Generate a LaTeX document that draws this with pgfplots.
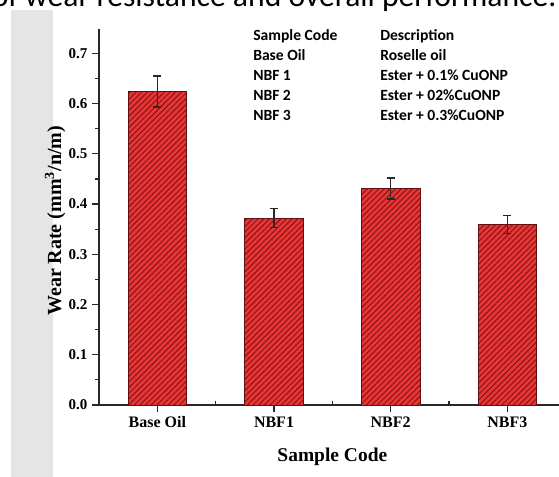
\documentclass[border=0pt]{standalone}
\usepackage{pgfplots}
\pgfplotsset{compat=1.18}
\usepackage{pgfplotstable}
\usepackage{fontspec}
\setmainfont{Liberation Serif}
\newfontfamily\calibri{Carlito}
\usetikzlibrary{patterns.meta}

\definecolor{barred}{RGB}{230,54,54}
\definecolor{hatchred}{RGB}{140,18,22}
\definecolor{baredge}{RGB}{100,15,15}
\definecolor{panelgray}{RGB}{229,229,229}
\definecolor{axisgray}{RGB}{40,40,40}

% wear rate (mm^3/N/m) with standard deviation
\pgfplotstableread{
idx rate err
0 0.624 0.031
1 0.372 0.019
2 0.431 0.021
3 0.359 0.018
}\wearrates

\begin{document}
\begin{tikzpicture}[
  tbl/.style={anchor=base west, inner sep=0pt,
    font=\calibri\bfseries\fontsize{11.7pt}{14pt}\selectfont}]
\useasboundingbox (0,0) rectangle (419.25pt,357.75pt);
\clip (0,0) rectangle (419.25pt,357.75pt);
\begin{scope}[x=0.75pt,y=0.75pt]
\fill[white] (0,0) rectangle (559,477);
\fill[panelgray] (11,0) rectangle (53,467);
\node[anchor=base west, inner sep=0pt] at (25,470)
  {\resizebox{398.25pt}{!}{\calibri\llap{of }wear resistance and overall performance.}};
\end{scope}

\begin{axis}[
  at={(74.25pt,54pt)}, anchor=south west,
  width=350pt, height=281.85pt, scale only axis,
  xmin=-0.5, xmax=3.5, ymin=0, ymax=0.748,
  axis lines=left,
  axis line style={-, line width=1.1pt, color=axisgray},
  tick style={line width=0.9pt, color=axisgray},
  tick align=outside,
  major tick length=5.25pt, minor tick length=3pt,
  xtick={0,1,2,3},
  xticklabels={Base Oil, NBF1, NBF2, NBF3},
  extra x ticks={0.5,1.5,2.5},
  extra x tick labels={},
  extra x tick style={tick align=inside, major tick length=3pt},
  ytick={0,0.1,0.2,0.3,0.4,0.5,0.6,0.7},
  minor ytick={0.05,0.15,0.25,0.35,0.45,0.55,0.65},
  yticklabel style={/pgf/number format/fixed, /pgf/number format/precision=1,
    /pgf/number format/fixed zerofill,
    font=\bfseries\fontsize{11.25pt}{13pt}\selectfont},
  xticklabel style={font=\bfseries\fontsize{12pt}{14pt}\selectfont},
  /pgf/number format/assume math mode=true,
  xlabel={Sample Code},
  ylabel={Wear Rate (mm\textsuperscript{3}/n/m)},
  xlabel style={font=\bfseries\fontsize{14.6pt}{17pt}\selectfont,
    at={(axis description cs:0.5,0)}, anchor=base, yshift=-42pt},
  ylabel style={font=\bfseries\fontsize{15pt}{18pt}\selectfont,
    at={(axis description cs:-0.0814,0.49)}, anchor=base},
]
% hatched bars
\addplot[ybar, bar width=44pt, draw=baredge, line width=0.6pt, fill=barred,
  postaction={pattern={Lines[angle=45,distance=3pt,line width=0.75pt]},
    pattern color=hatchred}]
  table[x=idx, y=rate] {\wearrates};
% standard deviation with capped error bars
\addplot[draw=none, mark=none, forget plot,
  error bars/.cd, y dir=both, y explicit,
  error mark=-,
  error bar style={solid, line width=1.1pt, draw=axisgray},
  error mark options={solid, rotate=90, line width=1.1pt, mark size=3pt, draw=axisgray}]
  table[x=idx, y=rate, y error=err] {\wearrates};
\end{axis}

\begin{scope}[x=0.75pt,y=0.75pt]
\node[tbl] at (253,436.3) {Sample Code};
\node[tbl] at (380,436.3) {Description};
\node[tbl] at (253,416.3) {Base Oil};
\node[tbl] at (380,416.3) {Roselle oil};
\node[tbl] at (253,396.3) {NBF 1};
\node[tbl] at (380,396.3) {Ester + 0.1\% CuONP};
\node[tbl] at (253,376.3) {NBF 2};
\node[tbl] at (380,376.3) {Ester + 02\%CuONP};
\node[tbl] at (253,356.3) {NBF 3};
\node[tbl] at (380,356.3) {Ester + 0.3\%CuONP};
\end{scope}
\end{tikzpicture}
\end{document}
